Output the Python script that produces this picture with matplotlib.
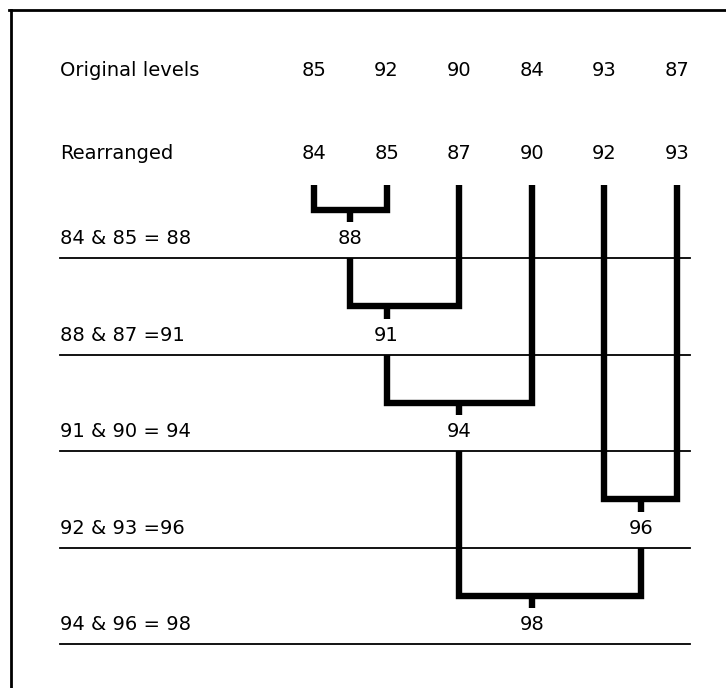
import matplotlib.pyplot as plt
from matplotlib.lines import Line2D

# --- data ---
original = [85, 92, 90, 84, 93, 87]
rearranged = sorted(original)
pair_left = [84, 88, 91, 92, 94]
pair_right = [85, 87, 90, 93, 96]
combined = [88, 91, 94, 96, 98]
step_labels = ["84 & 85 = 88", "88 & 87 =91", "91 & 90 = 94",
               "92 & 93 =96", "94 & 96 = 98"]
# column where each combined value is carried down
stem_col = [0.5, 1.0, 2.0, 4.5, 3.0]

FS = 14
plt.rcParams["font.family"] = ["DejaVu Sans"]

fig = plt.figure(figsize=(7.26, 6.88), dpi=100)
ax = fig.add_axes([0, 0, 1, 1])
ax.set_xlim(-314 / 72.6, (726 - 314) / 72.6)
ax.set_ylim(1 + 430 / 96.5, 1 - 258 / 96.5)
ax.axis("off")

# frame (open at right and bottom, as in the scan)
fig.add_artist(Line2D([9 / 726, 1], [1 - 10 / 688, 1 - 10 / 688],
                      color="black", lw=2))
fig.add_artist(Line2D([11 / 726, 11 / 726], [1 - 10 / 688, 0],
                      color="black", lw=2))

label_x = -3.5
row_orig = -0.948
row_rear = -0.088
leaf_top = 0.244

ax.text(label_x, row_orig, "Original levels", fontsize=FS, va="center", ha="left")
ax.text(label_x, row_rear, "Rearranged", fontsize=FS, va="center", ha="left")
for i, v in enumerate(original):
    ax.text(i, row_orig, str(v), fontsize=FS, va="center", ha="center")
for i, v in enumerate(rearranged):
    ax.text(i, row_rear, str(v), fontsize=FS, va="center", ha="center")

# position and start height of each value's line
xpos = {v: i for i, v in enumerate(rearranged)}
ytop = {v: leaf_top for v in rearranged}

for k, (a, b, c) in enumerate(zip(pair_left, pair_right, combined)):
    rule = k + 1
    horiz = rule - 0.5
    xa, xb = xpos[a], xpos[b]
    ax.plot([xa, xa, xb, xb], [ytop[a], horiz, horiz, ytop[b]],
            color="black", lw=4.6, solid_joinstyle="miter", solid_capstyle="butt")
    sx = stem_col[k]
    ax.plot([sx, sx], [horiz, rule - 0.37], color="black", lw=4.6,
            solid_capstyle="butt")
    ax.text(sx, rule - 0.2, str(c), fontsize=FS, va="center", ha="center")
    ax.plot([label_x, 5.18], [rule, rule], color="black", lw=1.3)
    ax.text(label_x, rule - 0.2, step_labels[k], fontsize=FS,
            va="center", ha="left")
    xpos[c] = sx
    ytop[c] = rule

fig.savefig("out.png", dpi=100, facecolor="white")
